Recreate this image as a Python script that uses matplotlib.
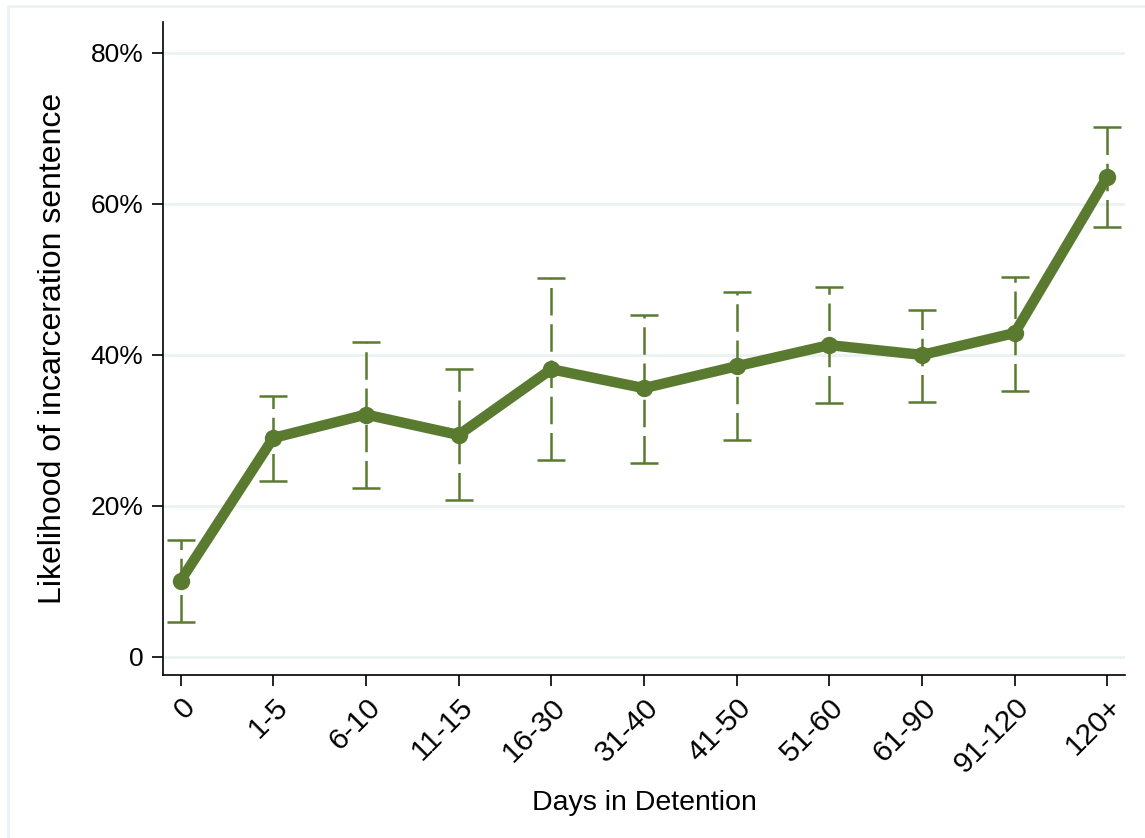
import numpy as np
import matplotlib
matplotlib.use("Agg")
import matplotlib.pyplot as plt
from matplotlib.patches import Rectangle

# days-in-detention bins and estimated likelihood (%) with 95% CI
categories = ["0", "1-5", "6-10", "11-15", "16-30", "31-40", "41-50",
              "51-60", "61-90", "91-120", "120+"]
estimate = [10.1, 29.0, 32.1, 29.4, 38.1, 35.6, 38.5, 41.3, 40.0, 42.9, 63.6]
ci_low = [4.6, 23.3, 22.4, 20.8, 26.1, 25.7, 28.7, 33.6, 33.8, 35.2, 57.0]
ci_high = [15.5, 34.6, 41.7, 38.1, 50.2, 45.3, 48.3, 49.0, 45.9, 50.3, 70.2]
yticks = [0, 20, 40, 60, 80]
ytick_labels = ["0", "20%", "40%", "60%", "80%"]

green = "#597A2F"
grid_col = "#EAF2F3"

plt.rcParams['font.family'] = ['Liberation Sans', 'DejaVu Sans']

fig = plt.figure(figsize=(11.45, 8.38), dpi=100)
# stata-style outer frame
fig.patches.append(Rectangle((8 / 1145, -0.01), 1.1, 1 - 6 / 838 + 0.01,
                             transform=fig.transFigure, fill=False,
                             edgecolor=grid_col, linewidth=2))

ax = fig.add_axes([163 / 1145, 1 - 675 / 838, (1125 - 163) / 1145, (675 - 22) / 838])

x = np.arange(len(categories))
est = np.array(estimate)
lo = est - np.array(ci_low)
hi = np.array(ci_high) - est

eb = ax.errorbar(x, est, yerr=[lo, hi], fmt="none", ecolor=green,
                 elinewidth=1.8, capsize=10, capthick=1.8, zorder=2)
for col in eb[2]:
    col.set_linestyle((0, (11, 3.5)))

ax.plot(x, est, color=green, linewidth=7.5, marker="o", markersize=11.5,
        solid_capstyle="round", zorder=3)

ax.set_xlim(-0.19, len(categories) - 1 + 0.19)
ax.set_ylim(-2.4, 84.1)
ax.set_yticks(yticks)
ax.set_yticklabels(ytick_labels, fontsize=19)
ax.set_xticks(x)
ax.set_xticklabels(categories, rotation=45, ha="right", rotation_mode="anchor",
                   fontsize=21.5)
ax.tick_params(axis="both", length=8, width=1.2)
ax.tick_params(axis="y", pad=6)
ax.tick_params(axis="x", pad=5)

ax.grid(axis="y", color=grid_col, linewidth=2)
ax.set_axisbelow(True)
for s in ["top", "right"]:
    ax.spines[s].set_visible(False)
for s in ["left", "bottom"]:
    ax.spines[s].set_linewidth(1.2)

ax.set_ylabel("Likelihood of incarceration sentence", fontsize=23, labelpad=16)
ax.set_xlabel("Days in Detention", fontsize=20.5, labelpad=8)

fig.savefig("out.png", dpi=100)
